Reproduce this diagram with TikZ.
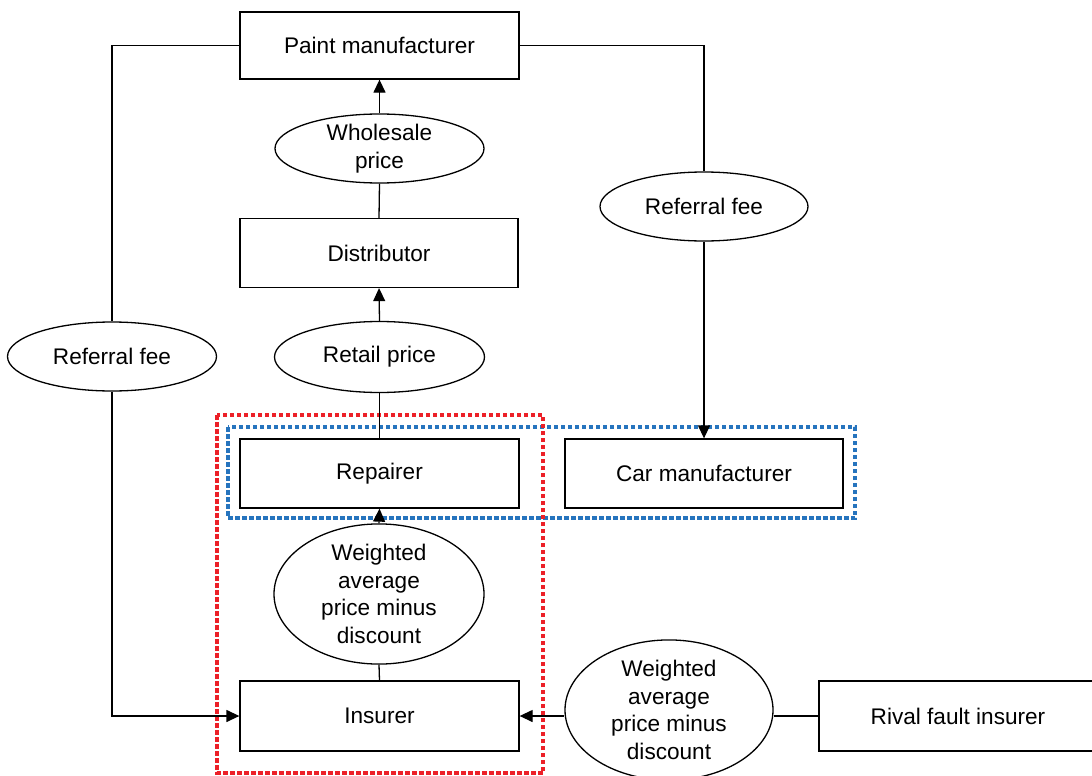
\documentclass[tikz,border=0pt]{standalone}
\usepackage{fontspec}
\setmainfont{Liberation Sans}
\usetikzlibrary{arrows.meta,shapes.geometric}
\definecolor{redbox}{RGB}{236,32,40}
\definecolor{bluebox}{RGB}{38,116,190}
\begin{document}
\begin{tikzpicture}[x=1pt,y=-1pt,
  every node/.style={font=\fontsize{22.6}{27.5}\selectfont, align=center, inner sep=0pt},
  box/.style={draw, line width=1.3pt, rectangle, minimum width=#1, minimum height=69pt},
  oval/.style 2 args={draw, line width=1.3pt, ellipse, minimum width=#1, minimum height=#2},
  conn/.style={line width=1.3pt},
  arr/.style={line width=1.3pt, -{Triangle[length=13pt,width=12pt]}},
  dotbox/.style={line width=4.5pt, dash pattern=on 4.5pt off 2.5pt}
]
\useasboundingbox (0,0) rectangle (1092,776);
% dotted groups (behind)
\draw[dotbox, bluebox] (228,427) rectangle (855,518);
\draw[dotbox, redbox] (217,415) rectangle (543,773);
% boxes
\node[box=279pt, minimum height=67pt] (paint) at (379.5,45.5) {Paint manufacturer};
\node[box=278pt] (dist) at (379,253) {Distributor};
\node[box=279pt] (rep) at (379.5,473.5) {Repairer};
\node[box=278pt] (car) at (704,473.5) {Car manufacturer};
\node[box=279pt, minimum height=70pt] (ins) at (379.5,716) {Insurer};
\node[box=278pt, minimum height=70pt] (rival) at (958,716) {Rival fault insurer};
% ovals
\node[oval={209pt}{69pt}] (wp) at (379.5,148.5) {Wholesale\\price};
\node[oval={210pt}{71pt}] (rp) at (379.5,357) {Retail price};
\node[oval={209pt}{69pt}] (rfl) at (112,356.5) {Referral fee};
\node[oval={208pt}{69pt}] (rfr) at (704,206.5) {Referral fee};
\node[oval={210pt}{126pt}] (wm) at (379,594) {Weighted\\average\\price minus\\discount};
\node[oval={208pt}{127pt}] (wr) at (669,710) {Weighted\\average\\price minus\\discount};
% connectors
\draw[conn] (paint.west) -| (rfl.north);
\draw[arr] (rfl.south) |- (ins.west);
\draw[conn] (paint.east) -| (rfr.north);
\draw[arr] (rfr.south) -- (car.north);
\draw[arr] (wp.north) -- (paint.south);
\draw[conn] (wp.south) -- (dist.north);
\draw[arr] (rp.north) -- (dist.south);
\draw[conn] (rp.south) -- (rep.north);
\draw[arr] (wm.north) -- (rep.south);
\draw[conn] (wm.south) -- (ins.north);
\draw[conn] (rival.west) -- (rival.west -| wr.east);
\draw[arr] (ins.east -| wr.west) -- (ins.east);
\end{tikzpicture}
\end{document}
